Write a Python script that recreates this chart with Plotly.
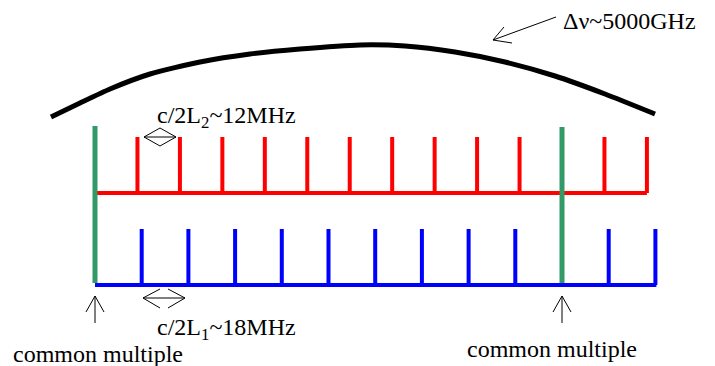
import plotly.graph_objects as go

# ---- data ----
red_teeth = list(range(1, 14))        # red comb (cavity L2) mode numbers
blue_teeth = list(range(1, 13))       # blue comb (cavity L1) mode numbers
common_red = [0, 11]                  # red modes coinciding with blue ones
common_blue = [0, 10]
envelope_x = [51, 80, 110, 150, 200, 250, 300, 360, 405, 455, 505, 555, 605, 655]
envelope_y = [117, 103, 89, 74, 62, 54, 49, 45, 46, 52, 62, 76, 94, 114]
label_gain = "Δν~5000GHz"
label_red = "c/2L<sub>2</sub>~12MHz"
label_blue = "c/2L<sub>1</sub>~18MHz"
label_common = "common multiple"

# ---- layout geometry (pixel canvas) ----
X0 = 95
red_step = (562 - X0) / 11
blue_step = (562 - X0) / 10
red_base, red_top = 193, 137
blue_base, blue_top = 285, 229

fig = go.Figure()

# gain envelope
fig.add_trace(go.Scatter(x=envelope_x, y=envelope_y, mode="lines",
                         line=dict(color="black", width=5, shape="spline", smoothing=0.6),
                         hoverinfo="skip"))

def comb(teeth, step, base, top, end, color):
    xs = [X0, end, None]
    ys = [base, base, None]
    for k in teeth:
        xx = X0 + k * step
        xs += [xx, xx, None]
        ys += [base, top, None]
    fig.add_trace(go.Scatter(x=xs, y=ys, mode="lines",
                             line=dict(color=color, width=4), hoverinfo="skip"))

comb(red_teeth, red_step, red_base, red_top, X0 + red_teeth[-1] * red_step, "#ff0000")
comb(blue_teeth, blue_step, blue_base, blue_top, X0 + blue_teeth[-1] * blue_step + 1, "#0000ff")

# common-multiple markers (green)
gx, gy = [], []
for k, top in zip(common_blue, [126, 127]):
    xx = X0 + k * blue_step
    gx += [xx, xx, None]
    gy += [blue_base - 2, top, None]
fig.add_trace(go.Scatter(x=gx, y=gy, mode="lines",
                         line=dict(color="#339966", width=5), hoverinfo="skip"))

# thin black arrows
ax, ay = [], []
def seg(x1, y1, x2, y2):
    ax.extend([x1, x2, None]); ay.extend([y1, y2, None])

# gain arrow
seg(556, 17, 493, 40); seg(493, 40, 504, 27); seg(493, 40, 512, 43)
# red spacing double arrow (diamond)
seg(144, 137, 176, 137)
seg(144, 137, 160, 128); seg(144, 137, 160, 146)
seg(176, 137, 160, 128); seg(176, 137, 160, 146)
# blue spacing double arrow
seg(143, 298, 185, 298)
seg(143, 298, 160, 289); seg(143, 298, 160, 308)
seg(185, 298, 168, 289); seg(185, 298, 168, 308)
# up arrows to common multiples
for k in common_blue:
    xx = X0 + k * blue_step
    seg(xx, 323, xx, 296); seg(xx, 296, xx - 9, 312); seg(xx, 296, xx + 9, 312)
fig.add_trace(go.Scatter(x=ax, y=ay, mode="lines",
                         line=dict(color="black", width=1), hoverinfo="skip"))

font = dict(family="Liberation Serif", size=24, color="black")
ann = [
    dict(x=561, y=21, text=label_gain),
    dict(x=155, y=117, text=label_red),
    dict(x=155, y=329, text=label_blue),
    dict(x=11, y=354, text=label_common),
    dict(x=465, y=349, text=label_common),
]
for a in ann:
    fig.add_annotation(x=a["x"], y=a["y"], text=a["text"], showarrow=False,
                       xanchor="left", yanchor="middle", font=font,
                       xref="x", yref="y")

fig.update_layout(width=715, height=366, margin=dict(l=0, r=0, t=0, b=0),
                  paper_bgcolor="white", plot_bgcolor="white", showlegend=False,
                  xaxis=dict(range=[0, 715], visible=False, fixedrange=True),
                  yaxis=dict(range=[366, 0], visible=False, fixedrange=True))

fig.write_html("out.html")
